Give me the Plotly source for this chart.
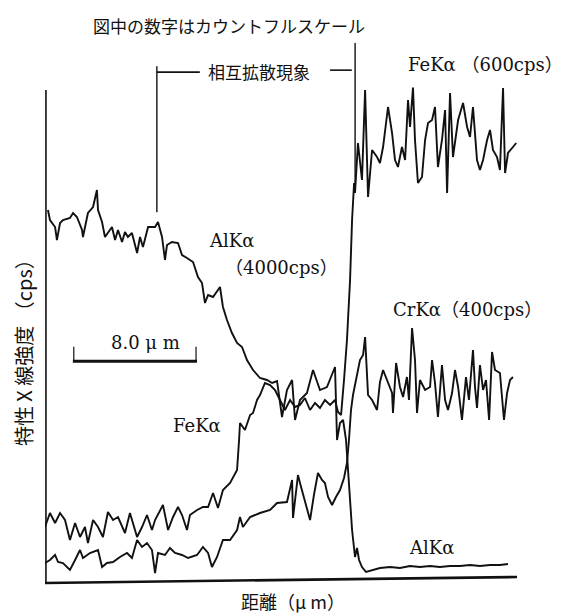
import plotly.graph_objects as go

# Distance (um) and relative intensity (% of each element's count full scale)
al_x = [0.19, 0.32, 0.65, 0.77, 0.97, 1.16, 1.61, 1.81, 2.06, 2.39, 2.45, 2.77, 3.10, 3.35, 3.42, 3.68,
        3.87, 4.06, 4.32, 4.52, 4.71, 4.97, 5.16, 5.35, 5.61, 5.94, 6.13, 6.32, 6.65, 7.10, 7.29, 7.55,
        7.74, 7.87, 8.19, 8.58, 8.84, 9.16, 9.55, 9.87, 10.13, 10.32, 10.52, 10.84, 11.29, 11.48, 11.74,
        12.06, 12.39, 12.71, 13.03, 13.42, 13.87, 14.32, 14.65, 14.97, 15.29, 15.61, 15.94, 16.13, 16.45,
        16.90, 17.29, 17.74, 18.19, 18.71, 18.84, 19.03, 19.23, 19.42, 19.55, 19.68, 19.81, 20.00, 20.13,
        20.26, 20.45, 20.71, 21.10, 21.61, 22.26, 22.90, 23.55, 24.19, 24.84, 25.48, 26.13, 26.77, 27.42,
        28.06, 28.71, 29.35, 29.87]
al_y = [74, 72, 70.6, 68, 71.4, 72, 72.4, 73.4, 72.6, 70, 68.6, 73.4, 74.6, 78, 74, 71.6,
        68.6, 69.4, 70.6, 68, 70, 67.6, 69.6, 68.6, 69.4, 65.4, 68.6, 66.6, 70.6, 70.6, 71.6, 68.6,
        64, 67, 67.6, 67.4, 65, 64.4, 63.6, 60.6, 59.4, 55.4, 57, 56.6, 58.6, 54.6, 52,
        49.4, 47.4, 46.6, 44, 42, 40.4, 40, 39.4, 39.8, 32.6, 38, 40, 32, 36,
        37.4, 42, 38, 38.6, 42.6, 28, 31.4, 32, 28, 22, 16, 10, 4.6, 6.4,
        4, 2.6, 1.6, 2, 2.4, 2.6, 2.4, 2.8, 2.6, 2.8, 2.6, 2.8, 2.8, 3,
        2.8, 3, 3, 3.2]

fe_x = [0.0, 0.32, 0.65, 0.97, 1.29, 1.61, 1.94, 2.26, 2.58, 2.77, 3.10, 3.42, 3.74, 4.06, 4.39, 4.71,
        5.16, 5.48, 5.94, 6.26, 6.58, 6.90, 7.10, 7.61, 7.94, 8.26, 8.58, 8.84, 9.16, 9.35, 9.81, 10.19,
        10.52, 10.84, 11.16, 11.48, 11.94, 12.13, 12.39, 12.52, 12.58, 12.90, 13.23, 13.42, 13.68, 13.87,
        14.19, 14.52, 14.84, 15.16, 15.48, 15.81, 16.13, 16.45, 16.77, 17.10, 17.42, 17.74, 18.06, 18.39,
        18.71, 18.90, 19.10, 19.29, 19.48, 19.68, 19.81, 19.94, 20.00, 20.19, 20.45, 20.65, 20.77, 20.84,
        21.10, 21.42, 21.61, 21.81, 22.13, 22.39, 22.58, 22.77, 23.03, 23.23, 23.42, 23.55, 23.74, 23.87,
        24.06, 24.32, 24.52, 24.71, 24.97, 25.16, 25.35, 25.61, 25.81, 25.94, 26.13, 26.32, 26.65, 26.97,
        27.23, 27.42, 27.61, 27.87, 28.06, 28.26, 28.52, 28.71, 28.90, 29.16, 29.35, 29.55, 29.68, 29.87,
        30.19, 30.40]
fe_y = [10.6, 13.4, 11.4, 13.4, 12, 8, 11.4, 8.6, 10.6, 7.4, 12, 10.6, 8.6, 13.6, 12, 12.6,
        9.4, 13.4, 8.6, 10.6, 13, 10, 12, 15, 10, 12.6, 14.6, 13, 10, 13, 14, 14.6,
        14.6, 17.4, 14.4, 18, 19.4, 20.4, 22, 28, 31.4, 30, 33, 33.4, 36, 37,
        39.4, 39, 38, 36, 34, 36, 34.6, 35, 36.4, 34, 35.4, 34.4, 36, 35,
        36, 33.6, 33, 40, 48, 60, 72, 79.4, 77.4, 87.4, 80, 98, 84.6, 76.6,
        86, 84.6, 83.4, 86.6, 94.6, 89.4, 84, 82.6, 86.6, 84, 96, 90.6, 98.5, 88,
        79.4, 80.6, 88, 91.4, 92, 94.6, 82.6, 88, 94, 77.4, 97.4, 84.6, 92, 95.4,
        90.6, 88.6, 94.6, 84, 82, 84, 88, 90, 86, 84.6, 82, 98.4, 81.4, 85.4,
        86.6, 87.4]

cr_x = [0.0, 0.32, 0.65, 0.84, 1.16, 1.61, 1.94, 2.26, 2.45, 2.90, 3.42, 3.68, 4.00, 4.39, 4.84, 5.29,
        5.61, 5.94, 6.26, 6.58, 6.90, 7.10, 7.29, 7.74, 8.06, 8.39, 8.84, 9.23, 9.81, 10.19, 10.52, 10.77,
        11.10, 11.48, 11.94, 12.39, 12.58, 12.77, 13.23, 13.87, 14.52, 14.97, 15.61, 15.94, 16.00, 16.32,
        16.45, 16.77, 17.10, 17.35, 17.61, 17.87, 18.06, 18.26, 18.52, 18.77, 19.03, 19.29, 19.48, 19.61,
        19.74, 19.87, 20.06, 20.32, 20.52, 20.65, 20.84, 21.10, 21.42, 21.61, 21.81, 22.13, 22.39, 22.45,
        22.65, 22.90, 23.10, 23.35, 23.48, 23.68, 23.87, 24.00, 24.19, 24.52, 24.84, 24.97, 25.16, 25.35,
        25.61, 25.81, 26.00, 26.26, 26.45, 26.65, 26.90, 27.16, 27.35, 27.61, 27.74, 27.87, 28.06, 28.26,
        28.45, 28.65, 28.84, 29.03, 29.35, 29.61, 29.81, 30.00, 30.19]
cr_y = [3.4, 4, 5, 3.6, 3.4, 2, 4, 6, 4.4, 5.4, 6, 2.6, 3.4, 3.6, 4.6, 5.4,
        4.4, 8, 6.6, 7.4, 6, 1.4, 5.4, 5, 6.4, 5.4, 5, 4.4, 5, 6.6, 5.4, 2.6,
        4.6, 8, 8, 10, 12.6, 10.6, 12.6, 13.4, 14, 15.4, 15.6, 20, 12.4, 21,
        19.4, 16, 12, 17, 21.4, 20, 19.4, 16.6, 15, 16.6, 18, 20.4, 23.4, 28,
        34, 37, 40, 44, 45, 48.6, 37, 36, 34, 39.6, 42, 39.6, 37.4, 33.4,
        43.4, 38.6, 36.6, 40.6, 36, 50.4, 44, 33.4, 40, 38, 38.6, 44, 39.4, 32.6,
        43, 36, 34, 37.4, 42, 38.6, 32, 40.6, 36, 46, 38.6, 34.4, 43, 38,
        40, 32, 45.6, 42, 41.4, 32, 37.4, 40, 40.6]

LINE = dict(color="#111111", width=1.9)
fig = go.Figure()
for xs, ys in [(cr_x, cr_y), (fe_x, fe_y), (al_x, al_y)]:
    fig.add_trace(go.Scatter(x=xs, y=ys, mode="lines", line=LINE, showlegend=False,
                             hoverinfo="skip"))

serif = "DejaVu Serif, Noto Sans CJK JP"
cjk = "Noto Sans CJK JP"
ann = [
    dict(text="図中の数字はカウントフルスケール", x=0.39, y=1.121, font=dict(family=cjk, size=17)),
    dict(text="相互拡散現象", x=0.453, y=1.028, font=dict(family=cjk, size=17)),
    dict(text="FeKα （600cps）", x=1.102, y=1.042, xanchor="right", font=dict(family=serif, size=18)),
    dict(text="AlKα", x=0.343, y=0.685, xanchor="left", font=dict(family=serif, size=18)),
    dict(text="（4000cps）", x=0.378, y=0.632, xanchor="left", font=dict(family=serif, size=18)),
    dict(text="CrKα（400cps）", x=0.733, y=0.547, xanchor="left", font=dict(family=serif, size=18)),
    dict(text="8.0 μ m", x=0.212, y=0.479, font=dict(family=serif, size=18)),
    dict(text="FeKα", x=0.267, y=0.313, xanchor="left", font=dict(family=serif, size=18)),
    dict(text="AlKα", x=0.767, y=0.065, xanchor="left", font=dict(family=serif, size=18)),
    dict(text="特性 X 線強度 （cps）", x=-0.045, y=0.47, textangle=-90, font=dict(family=cjk, size=20)),
    dict(text="距離（μ m）", x=0.525, y=-0.042, font=dict(family=cjk, size=18)),
]
for a in ann:
    a.setdefault("xanchor", "center")
    fig.add_annotation(xref="paper", yref="paper", showarrow=False, yanchor="middle",
                       font_color="#111111", **a)

shapes = [
    # axes
    dict(x0=0.002, x1=0.002, y0=-0.006, y1=0.99, width=1.6),
    dict(x0=0.0, x1=1.0, y0=-0.006, y1=0.006, width=2.6),
    # interdiffusion bracket
    dict(x0=0.237, x1=0.237, y0=0.743, y1=1.038, width=1.4),
    dict(x0=0.237, x1=0.328, y0=1.026, y1=1.026, width=1.6),
    dict(x0=0.604, x1=0.650, y0=1.030, y1=1.030, width=1.6),
    dict(x0=0.657, x1=0.657, y0=0.788, y1=1.085, width=1.4),
    # 8.0 um scale bar
    dict(x0=0.059, x1=0.322, y0=0.442, y1=0.442, width=3),
    dict(x0=0.061, x1=0.061, y0=0.442, y1=0.471, width=1.2),
    dict(x0=0.320, x1=0.320, y0=0.442, y1=0.471, width=1.2),
]
for s in shapes:
    w = s.pop("width")
    fig.add_shape(type="line", xref="paper", yref="paper", line=dict(color="#111111", width=w), **s)

# page body has an 8px margin; figure sized to fit the 568x616 window
fig.update_layout(
    width=560, height=608,
    margin=dict(l=37, r=51, t=77, b=36),
    paper_bgcolor="white", plot_bgcolor="white",
    xaxis=dict(range=[0, 30.45], visible=False),
    yaxis=dict(range=[0, 99], visible=False),
)
fig.write_html("out.html")
